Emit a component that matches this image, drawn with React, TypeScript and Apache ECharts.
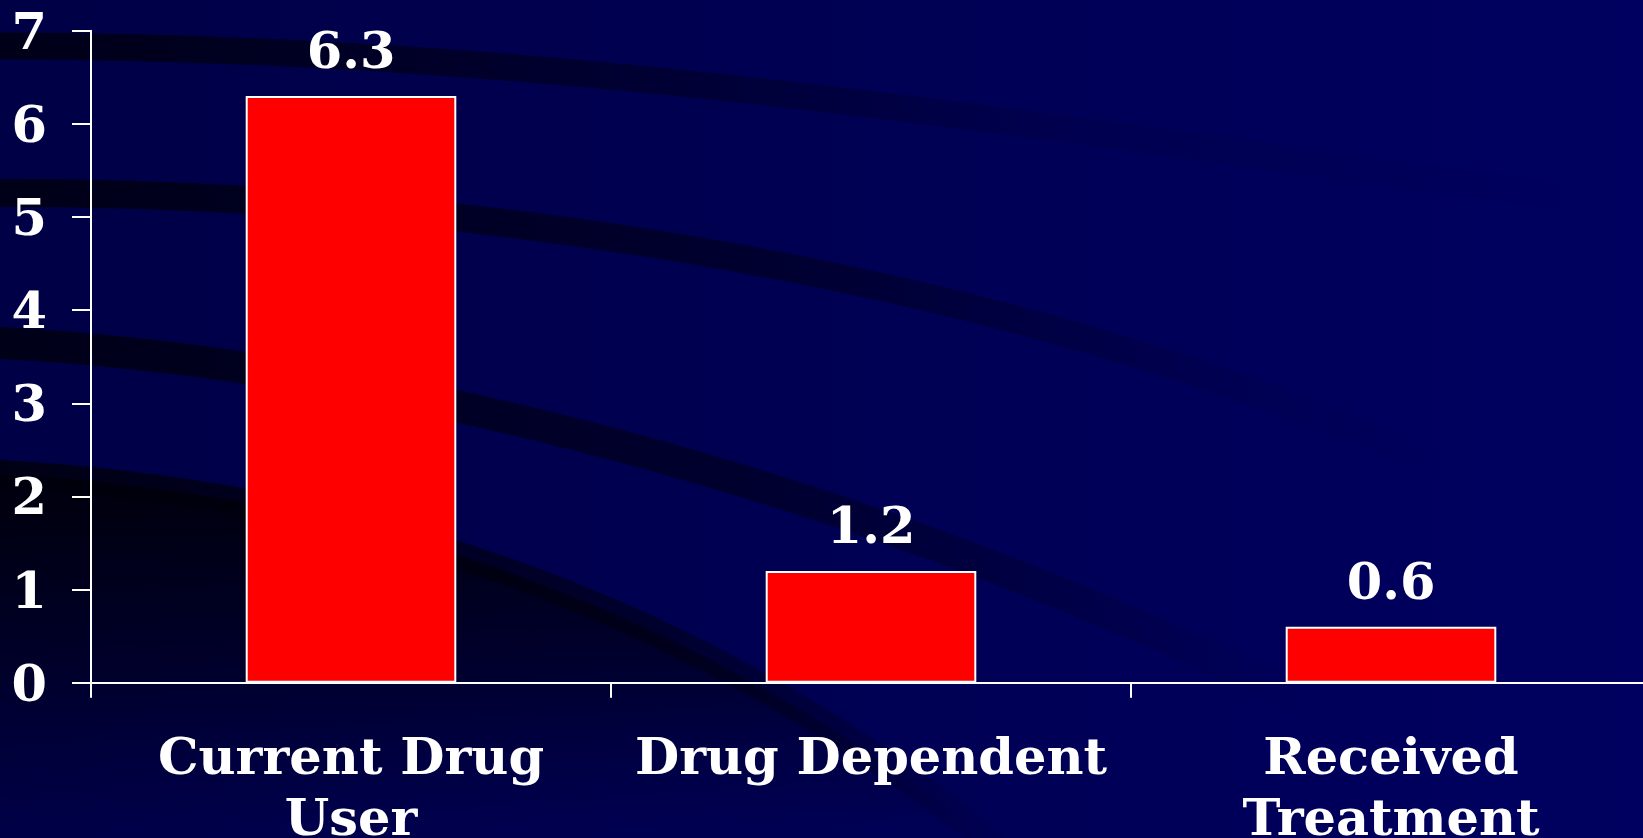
import React, { useEffect, useRef } from "react";
import * as echarts from "echarts";

const categories = ["Current Drug\nUser", "Drug Dependent", "Received\nTreatment"];
const values = [6.3, 1.2, 0.6];
const yMin = 0;
const yMax = 7;
const yInterval = 1;

const W = 1643;
const H = 838;
const FONT = "'DejaVu Serif', serif";

const darkRegionD = "M -20 473 C 350 490 700 600 1020 865 L -20 865 Z";
echarts.graphic.registerShape("darkRegion", echarts.graphic.extendPath(darkRegionD, {}));

const stripe = (x1: number, y1: number, cx1: number, cy1: number, cx2: number, cy2: number, x2: number, y2: number, w: number, a: number, mid: number) => ({
  type: "bezierCurve",
  silent: true,
  z: -8,
  shape: { x1, y1, cpx1: cx1, cpy1: cy1, cpx2: cx2, cpy2: cy2, x2, y2 },
  style: {
    fill: null,
    lineWidth: w,
    stroke: new echarts.graphic.LinearGradient(0, 0, 1, 0, [
      { offset: 0, color: `rgba(0,0,12,${a})` },
      { offset: mid, color: `rgba(0,0,12,${a * 0.6})` },
      { offset: Math.min(0.95, mid + 0.3), color: `rgba(0,0,12,${a * 0.12})` },
      { offset: 1, color: "rgba(0,0,12,0)" },
    ]),
  },
});

export default function App() {
  const ref = useRef<HTMLDivElement>(null);
  useEffect(() => {
    if (!ref.current) return;
    const chart = echarts.init(ref.current, null, { renderer: "svg" });
    const textStyle = { color: "#ffffff", fontFamily: FONT, fontWeight: "bold" as const, fontSize: 51 };
    chart.setOption({
      animation: false,
      backgroundColor: "#00004e",
      graphic: [
        {
          type: "rect",
          silent: true,
          z: -10,
          shape: { x: 0, y: 0, width: W, height: H },
          style: {
            fill: new echarts.graphic.LinearGradient(0, 0, 1, 0, [
              { offset: 0, color: "#000046" },
              { offset: 1, color: "#000060" },
            ]),
          },
        },
        {
          type: "darkRegion",
          silent: true,
          z: -9,
          x: 0,
          y: 0,
          style: {
            fill: new echarts.graphic.LinearGradient(0, 0, 0, 1, [
              { offset: 0, color: "rgba(0,0,8,0.9)" },
              { offset: 0.1, color: "rgba(0,0,8,0.85)" },
              { offset: 0.5, color: "rgba(0,0,8,0.45)" },
              { offset: 0.7, color: "rgba(0,0,8,0.2)" },
              { offset: 0.9, color: "rgba(0,0,8,0.0)" },
            ]),
          },
        },
        stripe(-10, 46, 600, 45, 1100, 140, 1660, 208, 27, 0.8, 0.35),
        stripe(-20, 193, 450, 190, 1000, 270, 1450, 470, 28, 0.8, 0.55),
        stripe(-20, 342, 400, 360, 900, 500, 1320, 710, 32, 0.8, 0.6),
        stripe(-20, 473, 350, 490, 700, 600, 1020, 865, 28, 0.85, 0.65),
      ],
      grid: { left: 91, right: -8, top: 30.7, bottom: 155.3, containLabel: false, outerBoundsMode: "none" },
      xAxis: {
        type: "category",
        data: categories,
        axisLine: { show: true, lineStyle: { color: "#ffffff", width: 2 } },
        axisTick: { show: true, length: 15, lineStyle: { color: "#ffffff", width: 2 } },
        axisLabel: { ...textStyle, interval: 0, margin: 43, lineHeight: 61 },
        splitLine: { show: false },
      },
      yAxis: {
        type: "value",
        min: yMin,
        max: yMax,
        interval: yInterval,
        axisLine: { show: true, lineStyle: { color: "#ffffff", width: 2 } },
        axisTick: { show: true, length: 19, lineStyle: { color: "#ffffff", width: 2 } },
        axisLabel: { ...textStyle, margin: 44 },
        splitLine: { show: false },
      },
      series: [
        {
          type: "bar",
          data: values,
          barWidth: "40.5%",
          itemStyle: { color: "#ff0000", borderColor: "#ffffff", borderWidth: 2 },
          label: { show: true, position: "top", distance: 20, ...textStyle, lineHeight: 51 },
        },
      ],
    });
    return () => chart.dispose();
  }, []);
  return <div ref={ref} style={{ position: "absolute", left: 0, top: 0, width: W, height: H }} />;
}
